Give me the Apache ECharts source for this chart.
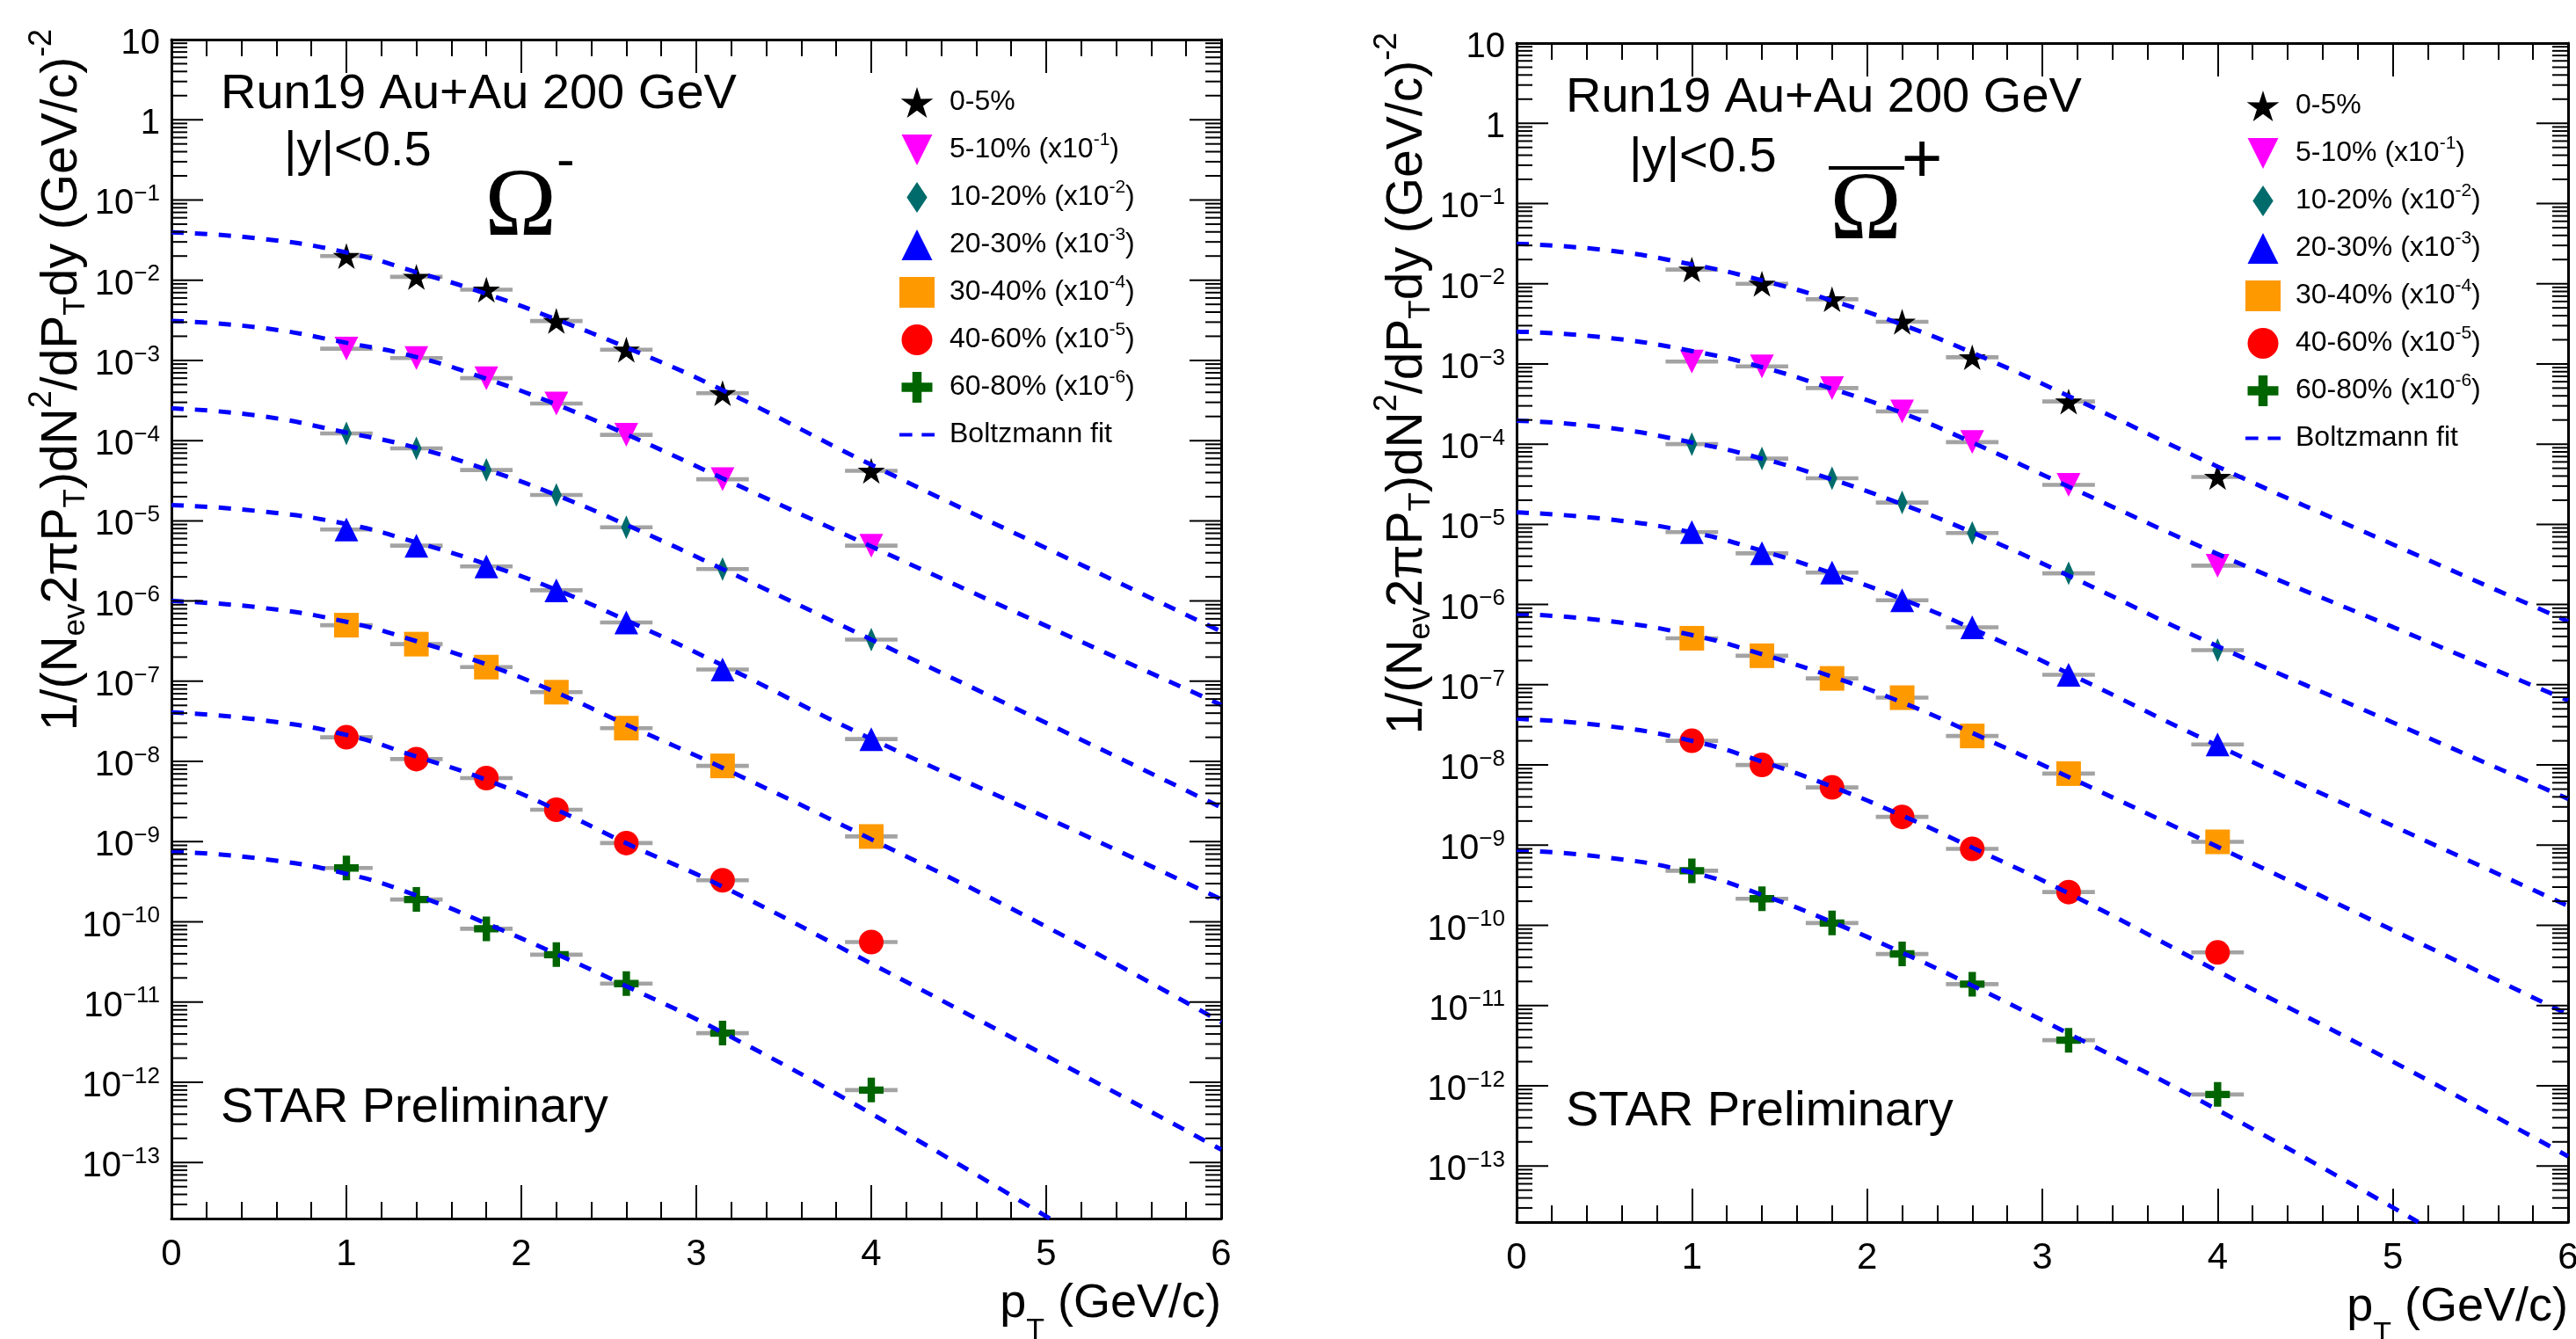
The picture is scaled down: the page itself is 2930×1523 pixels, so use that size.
<!DOCTYPE html>
<html>
<head>
<meta charset="utf-8">
<script src="https://cdn.jsdelivr.net/npm/echarts@6/dist/echarts.min.js"></script>
<style>
  html, body { margin: 0; padding: 0; background: #fff; }
  #chart { width: 2930px; height: 1523px; }
</style>
</head>
<body>
<div id="chart"></div>
<script>
// ---- data ----
const ptPoints = [1.0, 1.4, 1.8, 2.2, 2.6, 3.15, 4.0];
const ptHalfWidth = 0.15;
const centralities = ['0-5%', '5-10%', '10-20%', '20-30%', '30-40%', '40-60%', '60-80%'];
const scaleExp = [0, -1, -2, -3, -4, -5, -6];

// Omega- spectra (already scaled by the legend factor)
const omM_0_5 = [2.0e-2, 1.1e-2, 7.6e-3, 3.1e-3, 1.36e-3, 3.9e-4, 4.2e-5];
const omM_5_10 = [1.40e-3, 1.07e-3, 6.0e-4, 2.9e-4, 1.18e-4, 3.3e-5, 4.9e-6];
const omM_10_20 = [1.23e-4, 8.0e-5, 4.3e-5, 2.1e-5, 8.3e-6, 2.5e-6, 3.3e-7];
const omM_20_30 = [7.8e-6, 4.9e-6, 2.7e-6, 1.36e-6, 5.4e-7, 1.4e-7, 1.9e-8];
const omM_30_40 = [5.0e-7, 2.9e-7, 1.5e-7, 7.3e-8, 2.6e-8, 8.8e-9, 1.16e-9];
const omM_40_60 = [2.0e-8, 1.07e-8, 6.2e-9, 2.5e-9, 9.6e-10, 3.3e-10, 5.6e-11];
const omM_60_80 = [4.7e-10, 1.9e-10, 8.2e-11, 3.9e-11, 1.7e-11, 4.1e-12, 8.0e-13];

// anti-Omega+ spectra
const omP_0_5 = [1.5e-2, 1.0e-2, 6.4e-3, 3.35e-3, 1.21e-3, 3.4e-4, 3.9e-5];
const omP_5_10 = [1.07e-3, 9.3e-4, 5.0e-4, 2.55e-4, 1.06e-4, 3.1e-5, 3.05e-6];
const omP_10_20 = [1.0e-4, 6.6e-5, 3.75e-5, 1.87e-5, 7.8e-6, 2.45e-6, 2.7e-7];
const omP_20_30 = [8.0e-6, 4.35e-6, 2.5e-6, 1.13e-6, 5.2e-7, 1.33e-7, 1.8e-8];
const omP_30_40 = [3.8e-7, 2.3e-7, 1.2e-7, 6.9e-8, 2.3e-8, 7.8e-9, 1.1e-9];
const omP_40_60 = [2.0e-8, 1.0e-8, 5.25e-9, 2.25e-9, 9.0e-10, 2.6e-10, 4.6e-11];
const omP_60_80 = [4.8e-10, 2.15e-10, 1.07e-10, 4.4e-11, 1.85e-11, 3.7e-12, 7.8e-13];

// Boltzmann fit curves, sampled along the dashed lines
const fitPt = [0, 0.5, 1, 1.4, 1.8, 2.2, 2.6, 3.15, 4, 5, 6];
const fitPtPeriphM = [0, 0.5, 1, 1.4, 1.8, 2.2, 2.6, 3.15, 4, 5.02];
const fitPtPeriphP = [0, 0.5, 1, 1.4, 1.8, 2.2, 2.6, 3.15, 4, 5.145];

const fitM_0_5 = [3.95e-2, 3.31e-2, 2.22e-2, 1.26e-2, 6.76e-3, 3.24e-3, 1.45e-3, 4.27e-4, 5.0e-5, 4.57e-6, 4.17e-7];
const fitM_5_10 = [3.10e-3, 2.57e-3, 1.66e-3, 1.10e-3, 5.89e-4, 2.82e-4, 1.20e-4, 3.39e-5, 4.79e-6, 4.90e-7, 5.08e-8];
const fitM_10_20 = [2.52e-4, 2.04e-4, 1.26e-4, 8.13e-5, 4.37e-5, 2.09e-5, 8.91e-6, 2.51e-6, 3.31e-7, 3.02e-8, 2.67e-9];
const fitM_20_30 = [1.57e-5, 1.32e-5, 9.12e-6, 5.37e-6, 2.88e-6, 1.38e-6, 5.75e-7, 1.58e-7, 1.91e-8, 2.0e-9, 1.91e-10];
const fitM_30_40 = [1.0e-6, 8.32e-7, 5.50e-7, 3.16e-7, 1.62e-7, 7.24e-8, 2.88e-8, 8.32e-9, 1.07e-9, 8.71e-11, 5.62e-12];
const fitM_40_60 = [4.08e-8, 3.31e-8, 2.14e-8, 1.15e-8, 5.89e-9, 2.51e-9, 9.55e-10, 2.75e-10, 3.02e-11, 2.14e-12, 1.45e-13];
const fitM_60_80 = [7.52e-10, 6.17e-10, 3.98e-10, 2.14e-10, 9.55e-11, 3.98e-11, 1.58e-11, 4.17e-12, 4.07e-13, 2.0e-14];

const fitP_0_5 = [3.14e-2, 2.63e-2, 1.74e-2, 1.10e-2, 6.17e-3, 3.09e-3, 1.38e-3, 3.98e-4, 5.25e-5, 5.62e-6, 6.17e-7];
const fitP_5_10 = [2.53e-3, 2.14e-3, 1.45e-3, 9.12e-4, 4.90e-4, 2.45e-4, 1.05e-4, 2.95e-5, 4.27e-6, 5.25e-7, 6.37e-8];
const fitP_10_20 = [1.96e-4, 1.62e-4, 1.05e-4, 6.61e-5, 3.63e-5, 1.78e-5, 7.94e-6, 2.29e-6, 3.02e-7, 3.39e-8, 3.78e-9];
const fitP_20_30 = [1.41e-5, 1.17e-5, 7.94e-6, 4.68e-6, 2.45e-6, 1.17e-6, 5.01e-7, 1.38e-7, 1.74e-8, 1.74e-9, 1.75e-10];
const fitP_30_40 = [7.66e-7, 6.31e-7, 4.17e-7, 2.40e-7, 1.26e-7, 6.03e-8, 2.51e-8, 7.08e-9, 9.55e-10, 8.71e-11, 7.76e-12];
const fitP_40_60 = [3.76e-8, 3.09e-8, 2.0e-8, 1.10e-8, 5.37e-9, 2.34e-9, 9.33e-10, 2.51e-10, 2.69e-11, 2.0e-12, 1.32e-13];
const fitP_60_80 = [8.63e-10, 7.08e-10, 4.57e-10, 2.40e-10, 1.10e-10, 4.57e-11, 1.78e-11, 4.47e-12, 5.01e-13, 2.0e-14];

// axes
const xMin = 0, xMax = 6;
const yMin = 2e-14, yMax = 10;
const yDecadeExp = [1, 0, -1, -2, -3, -4, -5, -6, -7, -8, -9, -10, -11, -12, -13];
const yMinorMult = [2, 3, 4, 5, 6, 7, 8, 9];

// ---- styling ----
const SANS = '"Liberation Sans", Arial, Helvetica, sans-serif';
const SERIF = '"Liberation Serif", "Times New Roman", serif';
const sysFrac = 0.06;

const markers = [
  { symbol: 'path://M50,0 L61.17,34.63 L97.55,34.55 L68.07,55.87 L79.39,90.45 L50,69 L20.61,90.45 L31.93,55.87 L2.45,34.55 L38.83,34.63 Z', size: 31, color: '#000000' },
  { symbol: 'path://M0,0 L100,0 L50,100 Z', size: 27, color: '#ff00ff' },
  { symbol: 'path://M50,0 L100,75 L50,150 L0,75 Z', size: [18, 27], color: '#006b6b' },
  { symbol: 'path://M50,0 L100,100 L0,100 Z', size: 27, color: '#0000ff' },
  { symbol: 'rect', size: 28, color: '#ff9900' },
  { symbol: 'circle', size: 28, color: '#ff0000' },
  { symbol: 'path://M35,0 H65 V35 H100 V65 H65 V100 H35 V65 H0 V35 H35 Z', size: 28, color: '#006400' }
];
const fitDashIcon = 'path://M0,0 H15 V4 H0 Z M26,0 H41 V4 H26 Z';

const panels = [
  {
    grid: { left: 195, top: 45, width: 1194, height: 1341 },
    spectra: [omM_0_5, omM_5_10, omM_10_20, omM_20_30, omM_30_40, omM_40_60, omM_60_80],
    fits: [fitM_0_5, fitM_5_10, fitM_10_20, fitM_20_30, fitM_30_40, fitM_40_60, fitM_60_80],
    periphFitX: fitPtPeriphM,
    legend: { left: 1023, top: 95 },
    dx: 0, dy: 0
  },
  {
    grid: { left: 1725, top: 49, width: 1196, height: 1341 },
    spectra: [omP_0_5, omP_5_10, omP_10_20, omP_20_30, omP_30_40, omP_40_60, omP_60_80],
    fits: [fitP_0_5, fitP_5_10, fitP_10_20, fitP_20_30, fitP_30_40, fitP_40_60, fitP_60_80],
    periphFitX: fitPtPeriphP,
    legend: { left: 2554, top: 99 },
    dx: 1530, dy: 4
  }
];

// y ticks on the log axis: decades (major) and 2..9 x 10^n (minor)
const yTickData = [];
yDecadeExp.forEach(function (e) { yTickData.push([xMin, Math.pow(10, e), 1, e]); });
for (let e = -14; e <= 0; e++) {
  yMinorMult.forEach(function (k) {
    const v = k * Math.pow(10, e);
    if (v > yMin && v < yMax) yTickData.push([xMin, v, 0, e]);
  });
}

function decadeLabel(e) {
  if (e === 1) return '10';
  if (e === 0) return '1';
  return '10{e|\u2212' + (-e) + '}';
}

function yTickItem(params, api) {
  const v = api.value(1);
  const major = api.value(2) === 1;
  const pl = api.coord([xMin, v]);
  const pr = api.coord([xMax, v]);
  const len = major ? 36 : 18;
  const tickStyle = { stroke: '#000', lineWidth: 2 };
  const children = [
    { type: 'line', shape: { x1: pl[0], y1: pl[1], x2: pl[0] + len, y2: pl[1] }, style: tickStyle },
    { type: 'line', shape: { x1: pr[0] - len, y1: pr[1], x2: pr[0], y2: pr[1] }, style: tickStyle }
  ];
  if (major) {
    children.push({
      type: 'text', x: pl[0] - 13, y: pl[1] + 5,
      style: {
        text: decadeLabel(api.value(3)), fill: '#000', fontSize: 40, fontFamily: SANS,
        align: 'right', verticalAlign: 'middle', lineHeight: 49,
        rich: { e: { fontSize: 26, fontFamily: SANS, lineHeight: 26, verticalAlign: 'top', fill: '#000' } }
      }
    });
  }
  return { type: 'group', children: children };
}

function sysBoxItem(params, api) {
  const x = api.value(0), y = api.value(1);
  const p0 = api.coord([x - ptHalfWidth, y * (1 + sysFrac)]);
  const p1 = api.coord([x + ptHalfWidth, y / (1 + sysFrac)]);
  return {
    type: 'rect',
    shape: { x: p0[0], y: p0[1], width: p1[0] - p0[0], height: p1[1] - p0[1] },
    style: { fill: '#a3a3a3' }
  };
}

function legendLabel(name) {
  const i = centralities.indexOf(name);
  if (i > 0) return name + ' (x10{s|' + scaleExp[i] + '})';
  return name;
}

const grids = [], xAxes = [], yAxes = [], series = [], legends = [], graphics = [];

panels.forEach(function (p, k) {
  grids.push(Object.assign({ containLabel: false, outerBoundsMode: 'none' }, p.grid));
  const axisLine = { show: true, onZero: false, lineStyle: { color: '#000', width: 3 } };
  const tick = { show: true, inside: true, length: 38, lineStyle: { color: '#000', width: 2 } };
  const minor = { show: true, splitNumber: 5, length: 19, lineStyle: { color: '#000', width: 2 } };
  ['bottom', 'top'].forEach(function (pos) {
    xAxes.push({
      gridIndex: k, type: 'value', min: xMin, max: xMax, interval: 1, position: pos,
      axisLine: axisLine, axisTick: tick, minorTick: minor,
      axisLabel: { show: pos === 'bottom', margin: 20, fontSize: 42, fontFamily: SANS, color: '#000' },
      splitLine: { show: false }, minorSplitLine: { show: false }
    });
  });
  ['left', 'right'].forEach(function (pos) {
    yAxes.push({
      gridIndex: k, type: 'log', logBase: 10, min: yMin, max: yMax, position: pos,
      axisLine: axisLine, axisTick: { show: false }, axisLabel: { show: false },
      splitLine: { show: false }
    });
  });

  const axes = { xAxisIndex: 2 * k, yAxisIndex: 2 * k };

  const boxData = [];
  p.spectra.forEach(function (arr) {
    arr.forEach(function (v, j) { boxData.push([ptPoints[j], v]); });
  });
  series.push(Object.assign({ type: 'custom', data: boxData, renderItem: sysBoxItem, z: 2, clip: true, silent: true }, axes));

  p.spectra.forEach(function (arr, i) {
    series.push(Object.assign({
      type: 'scatter', name: centralities[i],
      data: arr.map(function (v, j) { return [ptPoints[j], v]; }),
      symbol: markers[i].symbol, symbolSize: markers[i].size, symbolKeepAspect: true,
      itemStyle: { color: markers[i].color, opacity: 1 }, z: 3
    }, axes));
  });

  p.fits.forEach(function (arr, i) {
    const xs = i === p.fits.length - 1 ? p.periphFitX : fitPt;
    series.push(Object.assign({
      type: 'line', name: 'Boltzmann fit',
      data: arr.map(function (v, j) { return [xs[j], v]; }),
      smooth: 0.5, symbol: 'none', showSymbol: false,
      lineStyle: { color: '#0000ff', width: 5, type: [14, 13] },
      itemStyle: { color: '#0000ff' }, z: 4
    }, axes));
  });

  series.push(Object.assign({ type: 'custom', data: yTickData, renderItem: yTickItem, z: 5, clip: false, silent: true }, axes));

  legends.push({
    show: true, orient: 'vertical', left: p.legend.left, top: p.legend.top, padding: 0,
    itemWidth: 40, itemHeight: 35, itemGap: 11, selectedMode: false,
    data: centralities.concat([{ name: 'Boltzmann fit', icon: fitDashIcon, itemStyle: { color: '#0000ff' } }]),
    formatter: legendLabel,
    textStyle: {
      fontSize: 32, fontFamily: SANS, color: '#000', lineHeight: 43, padding: [0, 0, 0, 12],
      rich: { s: { fontSize: 21, fontFamily: SANS, lineHeight: 21, verticalAlign: 'top', color: '#000' } }
    }
  });

  const dx = p.dx, dy = p.dy;
  const plain = function (txt, x, y, size, align) {
    return { type: 'text', x: x, y: y, style: { text: txt, fill: '#000', fontSize: size, fontFamily: SANS, align: align || 'left', verticalAlign: 'middle' } };
  };
  graphics.push(plain('Run19 Au+Au 200 GeV', 251 + dx, 108 + dy, 56));
  graphics.push(plain('|y|<0.5', 323 + dx, k === 0 ? 173 : 180, 56));
  graphics.push(plain('STAR Preliminary', 251 + dx, k === 0 ? 1261 : 1265, 56));

  // y-axis title
  graphics.push({
    type: 'text', x: 71 + dx, y: 432 + dy, rotation: Math.PI / 2,
    style: {
      text: '1/(N{sub|ev}2\u03c0P{sub|T})dN{sup|2}/dP{sub|T}dy (GeV/c){sup|-2}',
      fill: '#000', fontSize: 57, fontFamily: SANS, align: 'center', verticalAlign: 'middle', lineHeight: 66,
      rich: {
        sub: { fontSize: 35, fontFamily: SANS, lineHeight: 35, verticalAlign: 'bottom', fill: '#000' },
        sup: { fontSize: 36, fontFamily: SANS, lineHeight: 36, height: 20, verticalAlign: 'top', fill: '#000' }
      }
    }
  });
  // x-axis title
  graphics.push({
    type: 'text', x: p.grid.left + p.grid.width, y: 1483 + dy,
    style: {
      text: 'p{sub|T} (GeV/c)', fill: '#000', fontSize: 54, fontFamily: SANS,
      align: 'right', verticalAlign: 'middle', lineHeight: 96,
      rich: { sub: { fontSize: 34, fontFamily: SANS, lineHeight: 34, verticalAlign: 'bottom', fill: '#000' } }
    }
  });
});

// particle symbols
graphics.push({ type: 'text', x: 592, y: 238, style: { text: '\u03a9', fill: '#000', fontSize: 110, fontFamily: SERIF, align: 'center', verticalAlign: 'middle' } });
graphics.push({ type: 'text', x: 633, y: 185, style: { text: '-', fill: '#000', fontSize: 62, fontFamily: SANS, align: 'left', verticalAlign: 'middle' } });
graphics.push({ type: 'text', x: 2122, y: 242, style: { text: '\u03a9', fill: '#000', fontSize: 110, fontFamily: SERIF, align: 'center', verticalAlign: 'middle' } });
graphics.push({ type: 'line', shape: { x1: 2080, y1: 191, x2: 2166, y2: 191 }, style: { stroke: '#000', lineWidth: 4 } });
graphics.push({ type: 'text', x: 2186, y: 185, style: { text: '+', fill: '#000', fontSize: 80, fontFamily: SANS, align: 'center', verticalAlign: 'middle' } });

const chart = echarts.init(document.getElementById('chart'), null, { renderer: 'canvas' });
chart.setOption({
  backgroundColor: '#ffffff',
  animation: false,
  grid: grids,
  xAxis: xAxes,
  yAxis: yAxes,
  legend: legends,
  graphic: graphics,
  series: series
});
</script>
</body>
</html>
